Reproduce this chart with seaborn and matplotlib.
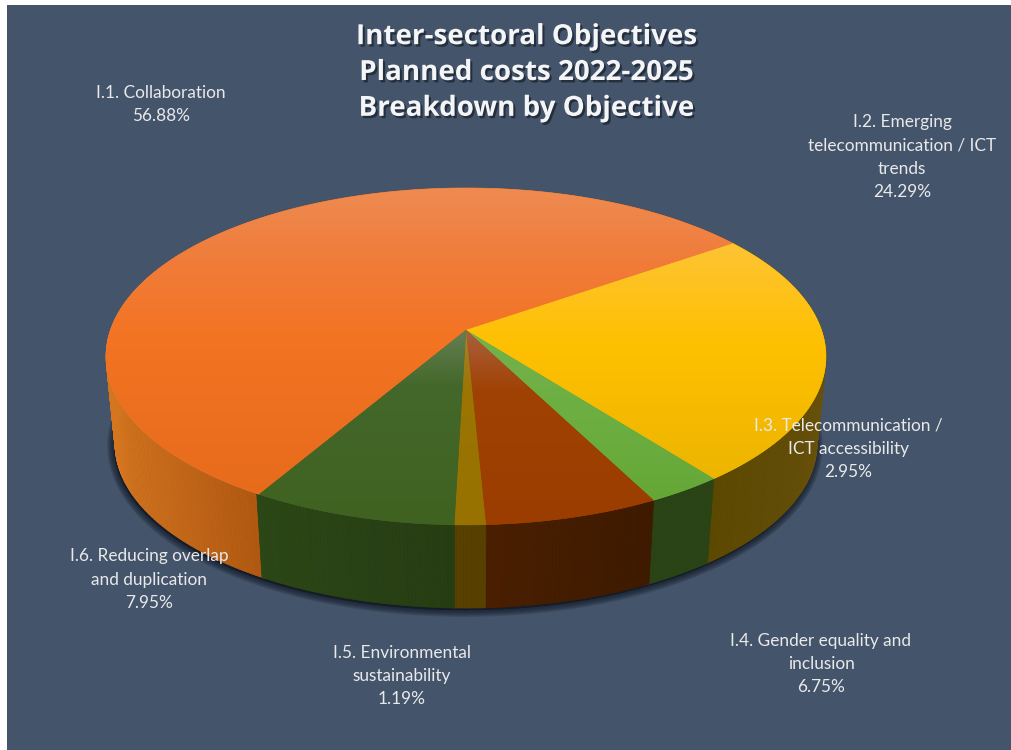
import numpy as np
import matplotlib
matplotlib.use("Agg")
import matplotlib.pyplot as plt
import matplotlib.patheffects as pe
from matplotlib.collections import PolyCollection
from matplotlib.colors import to_rgb
from matplotlib.patches import Polygon, Rectangle
import seaborn as sns

# Chart content
title_lines = ["Inter-sectoral Objectives", "Planned costs 2022-2025", "Breakdown by Objective"]
objectives = [
    "I.1. Collaboration",
    "I.2. Emerging\ntelecommunication / ICT\ntrends",
    "I.3. Telecommunication /\nICT accessibility",
    "I.4. Gender equality and\ninclusion",
    "I.5. Environmental\nsustainability",
    "I.6. Reducing overlap\nand duplication",
]
shares = [56.88, 24.29, 2.95, 6.75, 1.19, 7.95]

# Label anchors in pixels
label_x = [161, 902, 848, 821, 402, 149]
label_y = [104.5, 157, 448.5, 664, 676, 579.5]

# Surface shading: (pixel row, colour) stops for each slice top
top_stops = [
    [(188, "#EE8B52"), (260, "#F07C3A"), (335, "#F37423"), (500, "#E66B1B")],
    [(245, "#FDC433"), (345, "#FFC000"), (480, "#ECB500")],
    [(330, "#74B24D"), (420, "#6CAE40"), (500, "#65A737")],
    [(330, "#AB6040"), (390, "#A04203"), (525, "#9B3D00")],
    [(330, "#A6822F"), (390, "#9C7503"), (525, "#977200")],
    [(330, "#647F52"), (385, "#44682B"), (525, "#3F6220")],
]
# Rim shading: colours at the left and right ends of each slice wall
wall_ends = [
    ("#D5761F", "#B05810"),
    ("#5D4900", "#66500A"),
    ("#2A4416", "#2A4416"),
    ("#4A1F00", "#3E1A00"),
    ("#574000", "#574000"),
    ("#2C4716", "#263D12"),
]

sns.set_theme(style="white")
plt.rcParams["font.family"] = ["Lato", "DejaVu Sans"]

BACKGROUND = "#44546A"
LABEL_COLOUR = "#E9E9EA"
CENTRE = (466.0, 330.0)
RADIUS_X = 355.5
RADIUS_Y = 164.3
TILT = -0.157
DEPTH_CENTRE = (466.0, 418.0)
DEPTH_SCALE = 0.975
START_ANGLE = 239.8


def project(theta_deg, centre=CENTRE, scale=1.0):
    """Perspective view of a point on the pie's circular rim."""
    t = np.radians(theta_deg)
    u, v = np.cos(t), -np.sin(t)
    w = 1 + TILT * v
    return centre[0] + scale * RADIUS_X * u / w, centre[1] + scale * RADIUS_Y * v / w


fig = plt.figure(figsize=(10.11, 7.5), dpi=100, facecolor="white")
ax = fig.add_axes([7 / 1011, 0, 1004 / 1011, 745 / 750])
ax.set_axis_off()
ax.add_patch(Rectangle((7, 5), 1004, 745, facecolor=BACKGROUND, edgecolor="none", zorder=0))

# Slice boundaries run clockwise from the start angle
edges = START_ANGLE - np.concatenate([[0.0], np.cumsum(shares)]) * 360.0 / sum(shares)

# Soft shadow around the foot of the pie
ring = np.linspace(0, 360, 361)
foot = np.column_stack(project(ring, DEPTH_CENTRE, DEPTH_SCALE)) + [-1, 2]
for width in np.linspace(10, 1, 8):
    ax.add_patch(Polygon(foot, closed=True, facecolor="#141C2A", edgecolor="#141C2A",
                         lw=width, alpha=0.15, zorder=1))
ax.add_patch(Polygon(foot, closed=True, facecolor="#141C2A", edgecolor="none", zorder=1))

# Outer wall, one narrow strip per step of angle
for k, (a0, a1) in enumerate(zip(edges[:-1], edges[1:])):
    thetas = np.arange(a0, a1 - 0.5, -0.5)
    thetas = np.append(thetas, a1)
    rx, ry = project(thetas)
    bx, by = project(thetas, DEPTH_CENTRE, DEPTH_SCALE)
    facing = ry > CENTRE[1]
    low, high = rx[facing].min(), rx[facing].max()
    left, right = np.array(to_rgb(wall_ends[k][0])), np.array(to_rgb(wall_ends[k][1]))
    quads, colours = [], []
    for i in range(len(thetas) - 1):
        quads.append([(rx[i], ry[i]), (rx[i + 1], ry[i + 1]), (bx[i + 1], by[i + 1]), (bx[i], by[i])])
        f = np.clip(((rx[i] + rx[i + 1]) / 2 - low) / max(high - low, 1), 0, 1)
        colours.append(left + (right - left) * f)
    ax.add_collection(PolyCollection(quads, facecolors=colours, edgecolors=colours,
                                     linewidths=0.5, zorder=2))

# Top surface: a vertical gradient clipped to each wedge
for k, (a0, a1) in enumerate(zip(edges[:-1], edges[1:])):
    thetas = np.append(np.arange(a0, a1, -0.25), a1)
    rx, ry = project(thetas)
    outline = np.column_stack([np.r_[CENTRE[0], rx], np.r_[CENTRE[1], ry]])
    wedge = Polygon(outline, closed=True, facecolor=top_stops[k][1][1], edgecolor=top_stops[k][1][1],
                    lw=0.4, zorder=3)
    ax.add_patch(wedge)
    rows = np.arange(180, 540)
    stops_y = [s[0] for s in top_stops[k]]
    stops_c = np.array([to_rgb(s[1]) for s in top_stops[k]])
    shade = np.stack([np.interp(rows, stops_y, stops_c[:, c]) for c in range(3)], axis=1)[:, None, :]
    image = ax.imshow(shade, extent=(90, 840, 540, 180), aspect="auto", origin="upper",
                      interpolation="bilinear", zorder=3.1)
    image.set_clip_path(Polygon(outline, closed=True, transform=ax.transData))

ax.set_xlim(7, 1011)
ax.set_ylim(750, 5)

# Title with its drop shadow
ax.text(526.5, 72.5, "\n".join(title_lines), ha="center", va="center", family=["Open Sans", "DejaVu Sans"],
        fontsize=20, fontweight="bold", color="#F4F5F7", linespacing=1.31, zorder=6,
        path_effects=[pe.withSimplePatchShadow(offset=(1.5, -1.7), shadow_rgbFace="#10151F", alpha=0.6)])

# Objective labels with their shares
for name, share, x, y in zip(objectives, shares, label_x, label_y):
    ax.text(x, y, f"{name}\n{share:.2f}%", ha="center", va="center", fontsize=12.4,
            color=LABEL_COLOUR, linespacing=1.55, zorder=5)

fig.savefig("out.png", dpi=100, facecolor="white")
